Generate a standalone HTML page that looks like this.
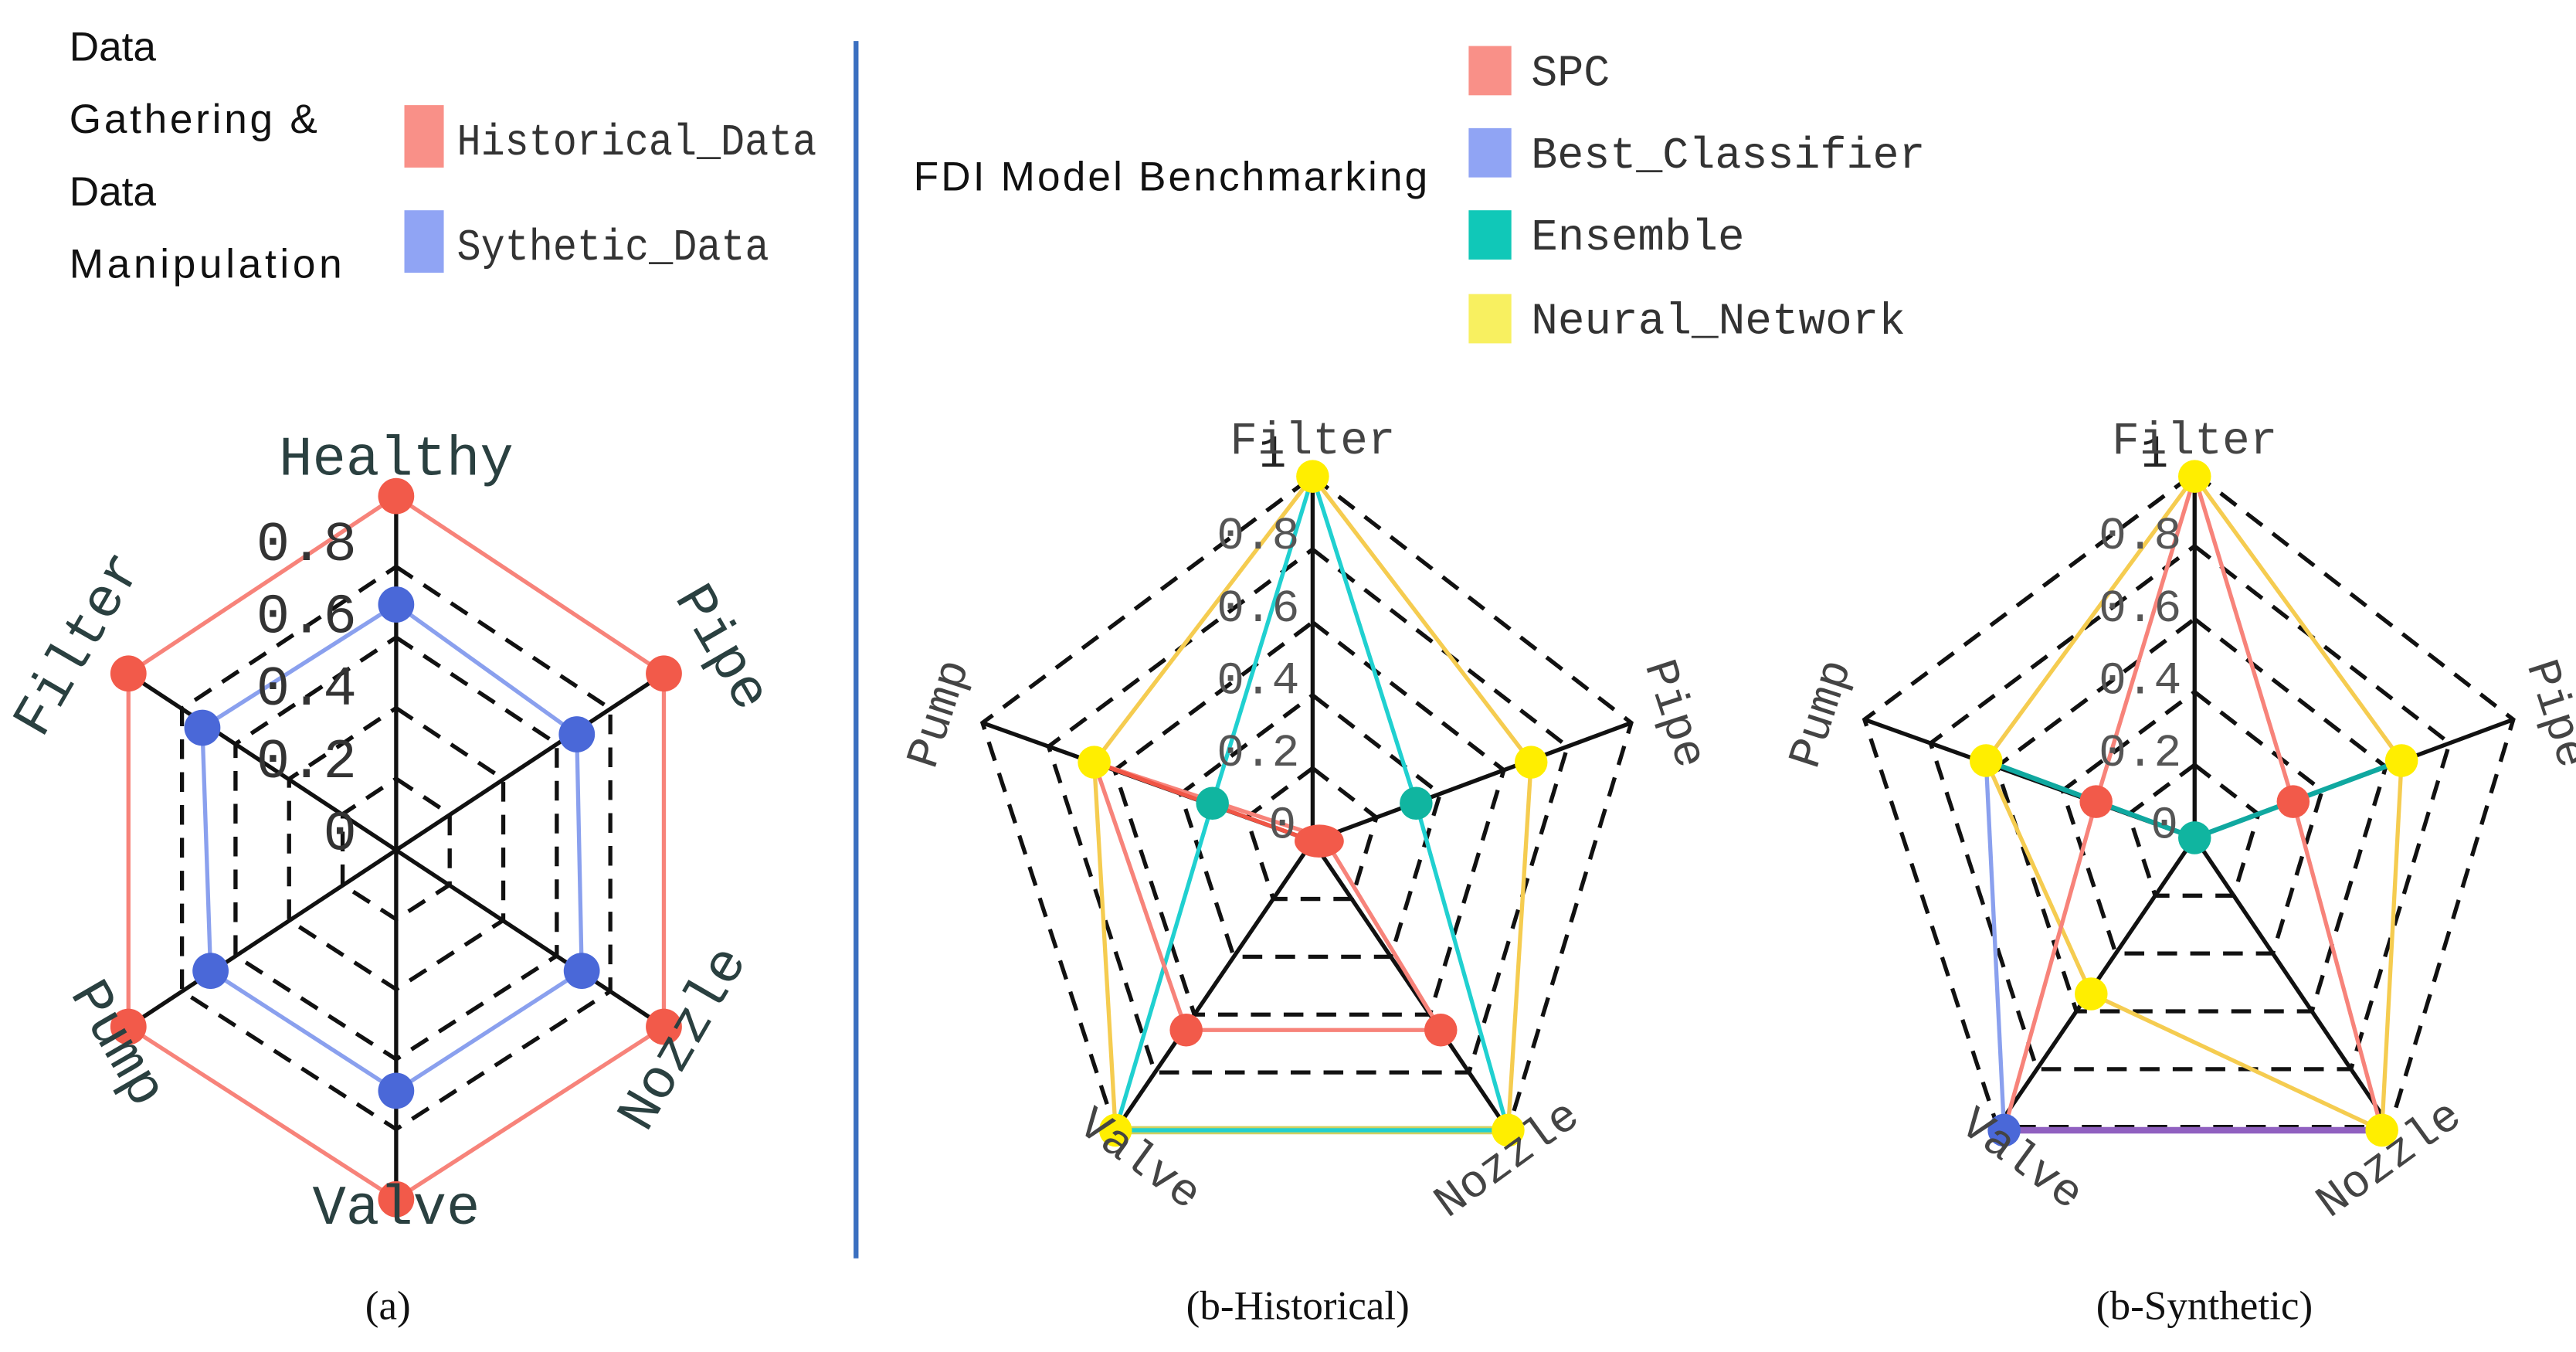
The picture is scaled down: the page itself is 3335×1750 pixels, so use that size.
<!DOCTYPE html>
<html><head><meta charset="utf-8"><style>html,body{margin:0;padding:0;background:#fff}svg{display:block}</style></head><body>
<svg width="3335" height="1750" viewBox="0 0 1568 823" xmlns="http://www.w3.org/2000/svg">
<rect width="1568" height="823" fill="#fff"/>
<g font-family="'Liberation Sans',sans-serif" font-size="25" fill="#111">
<text x="42" y="37">Data</text>
<text x="42" y="81" textLength="151">Gathering &amp;</text>
<text x="42" y="125">Data</text>
<text x="42" y="169" textLength="166">Manipulation</text>
<text x="556" y="116" textLength="313">FDI Model Benchmarking</text>
</g>
<rect x="246" y="64" width="24" height="38" fill="#f99088"/>
<rect x="246" y="128" width="24" height="38" fill="#90a4f4"/>
<rect x="894" y="28" width="26" height="30" fill="#f99088"/>
<rect x="894" y="78" width="26" height="30" fill="#90a4f4"/>
<rect x="894" y="128" width="26" height="30" fill="#10c8b8"/>
<rect x="894" y="179" width="26" height="30" fill="#f8f060"/>
<g font-family="'Liberation Mono',monospace" font-size="27" fill="#333">
<text x="278" y="94" textLength="219" lengthAdjust="spacingAndGlyphs">Historical_Data</text>
<text x="278" y="158" textLength="190" lengthAdjust="spacingAndGlyphs">Sythetic_Data</text>
<text x="932" y="52" textLength="48" lengthAdjust="spacingAndGlyphs">SPC</text>
<text x="932" y="102" textLength="240" lengthAdjust="spacingAndGlyphs">Best_Classifier</text>
<text x="932" y="152" textLength="130" lengthAdjust="spacingAndGlyphs">Ensemble</text>
<text x="932" y="203" textLength="228" lengthAdjust="spacingAndGlyphs">Neural_Network</text>
</g>
<line x1="521" y1="25" x2="521" y2="766" stroke="#3a6fc0" stroke-width="3"/>

<!-- Chart (a) -->
<g transform="translate(241,517)">
<g fill="none" stroke="#111" >
<polygon transform="scale(0.2)" stroke-width="12.5" stroke-dasharray="60 40" points="0,-215 163,-107 163,108 0,213 -163,108 -163,-107"/>
<polygon transform="scale(0.4)" stroke-width="6.25" stroke-dasharray="30 20" points="0,-215 163,-107 163,108 0,213 -163,108 -163,-107"/>
<polygon transform="scale(0.6)" stroke-width="4.17" stroke-dasharray="20 13.3" points="0,-215 163,-107 163,108 0,213 -163,108 -163,-107"/>
<polygon transform="scale(0.8)" stroke-width="3.1" stroke-dasharray="15 10" points="0,-215 163,-107 163,108 0,213 -163,108 -163,-107"/>
<line x1="0" y1="-215" x2="0" y2="213" stroke-width="2.5"/>
<line x1="-163" y1="-107" x2="163" y2="108" stroke-width="2.5"/>
<line x1="163" y1="-107" x2="-163" y2="108" stroke-width="2.5"/>
</g>
<polygon fill="none" stroke="#f7837a" stroke-width="2.5" points="0,-215 163,-107 163,108 0,213 -163,108 -163,-107"/>
<polygon fill="none" stroke="#8aa0ee" stroke-width="2.5" points="0,-149 110,-70 113,74 0,147 -113,74 -118,-74"/>
<g fill="#f25a4a"><circle cx="0" cy="-215" r="11"/><circle cx="163" cy="-107" r="11"/><circle cx="163" cy="108" r="11"/><circle cx="0" cy="213" r="11"/><circle cx="-163" cy="108" r="11"/><circle cx="-163" cy="-107" r="11"/></g>
<g fill="#4a68d8"><circle cx="0" cy="-149" r="11"/><circle cx="110" cy="-70" r="11"/><circle cx="113" cy="74" r="11"/><circle cx="0" cy="147" r="11"/><circle cx="-113" cy="74" r="11"/><circle cx="-118" cy="-74" r="11"/></g>
<g font-family="'Liberation Mono',monospace" font-size="34" fill="#333" text-anchor="end">
<text x="-24" y="-176">0.8</text><text x="-24" y="-132">0.6</text><text x="-24" y="-88">0.4</text><text x="-24" y="-44">0.2</text><text x="-24" y="0">0</text>
</g>
<g font-family="'Liberation Mono',monospace" font-size="34" fill="#2a4040" text-anchor="middle">
<text x="0" y="-228">Healthy</text>
<text x="0" y="228">Valve</text>
<text transform="translate(190,-118) rotate(60)">Pipe</text>
<text transform="translate(-185,-120) rotate(-60)">Filter</text>
<text transform="translate(-178,123) rotate(60)">Pump</text>
<text transform="translate(183,120) rotate(-60)">Nozzle</text>
</g>
</g>

<!-- Pentagon charts -->
<g transform="translate(799,512)">
<g fill="none" stroke="#111">
<polygon transform="scale(0.2)" stroke-width="12.5" stroke-dasharray="60 40" points="0,-222 194,-72 119,176 -120,176 -201,-72"/>
<polygon transform="scale(0.4)" stroke-width="6.25" stroke-dasharray="30 20" points="0,-222 194,-72 119,176 -120,176 -201,-72"/>
<polygon transform="scale(0.6)" stroke-width="4.17" stroke-dasharray="20 13.3" points="0,-222 194,-72 119,176 -120,176 -201,-72"/>
<polygon transform="scale(0.8)" stroke-width="3.1" stroke-dasharray="15 10" points="0,-222 194,-72 119,176 -120,176 -201,-72"/>
<polygon stroke-width="2.5" stroke-dasharray="12 8" points="0,-222 194,-72 119,176 -120,176 -201,-72"/>
<line x1="0" y1="0" x2="0" y2="-222" stroke-width="2.5"/>
<line x1="0" y1="0" x2="194" y2="-72" stroke-width="2.5"/>
<line x1="0" y1="0" x2="-201" y2="-72" stroke-width="2.5"/>
<line x1="0" y1="0" x2="119" y2="176" stroke-width="2.5"/>
<line x1="0" y1="0" x2="-120" y2="176" stroke-width="2.5"/>
</g>
<line x1="-120" y1="176" x2="119" y2="176" stroke="#d0d060" stroke-width="5"/>
<polygon fill="none" stroke="#f5cc50" stroke-width="2.5" points="0,-222 133,-48 119,176 -120,176 -133,-48"/>
<polygon fill="none" stroke="#20d0d0" stroke-width="2.5" points="0,-222 63,-23 119,176 -120,176 -61,-23"/>
<polygon fill="none" stroke="#f7837a" stroke-width="2.5" points="-133,-48 7,-2 78,115 -77,115"/>
<line x1="-133" y1="-48" x2="0" y2="0" stroke="#f05545" stroke-width="2.5"/>
<g fill="#10b5a0"><circle cx="63" cy="-23" r="10"/><circle cx="-61" cy="-23" r="10"/></g>
<g fill="#f25a4a"><ellipse cx="4" cy="0" rx="15" ry="10"/><circle cx="-77" cy="115" r="10"/><circle cx="78" cy="115" r="10"/></g>
<g fill="#ffee00"><circle cx="0" cy="-222" r="10"/><circle cx="133" cy="-48" r="10"/><circle cx="119" cy="176" r="10"/><circle cx="-120" cy="176" r="10"/><circle cx="-133" cy="-48" r="10"/></g>
<g font-family="'Liberation Mono',monospace" font-size="28" fill="#555" text-anchor="end">
<text x="-16" y="-228" fill="#222">1</text><text x="-8" y="-178">0.8</text><text x="-8" y="-134">0.6</text><text x="-8" y="-90">0.4</text><text x="-8" y="-46">0.2</text><text x="-10" y="-2">0</text>
</g>
<g font-family="'Liberation Mono',monospace" font-size="28" fill="#444" text-anchor="middle">
<text x="0" y="-236">Filter</text>
<text transform="translate(-220,-75) rotate(-72)">Pump</text>
<text transform="translate(213,-75) rotate(72)">Pipe</text>
<text transform="translate(-110,200) rotate(36)">Valve</text>
<text transform="translate(123,200) rotate(-36)">Nozzle</text>
</g>
</g>

<g transform="translate(1336,510)">
<g fill="none" stroke="#111">
<polygon transform="scale(0.2)" stroke-width="12.5" stroke-dasharray="60 40" points="0,-222 194,-72 119,176 -120,176 -201,-72"/>
<polygon transform="scale(0.4)" stroke-width="6.25" stroke-dasharray="30 20" points="0,-222 194,-72 119,176 -120,176 -201,-72"/>
<polygon transform="scale(0.6)" stroke-width="4.17" stroke-dasharray="20 13.3" points="0,-222 194,-72 119,176 -120,176 -201,-72"/>
<polygon transform="scale(0.8)" stroke-width="3.1" stroke-dasharray="15 10" points="0,-222 194,-72 119,176 -120,176 -201,-72"/>
<polygon stroke-width="2.5" stroke-dasharray="12 8" points="0,-222 194,-72 119,176 -120,176 -201,-72"/>
<line x1="0" y1="0" x2="0" y2="-222" stroke-width="2.5"/>
<line x1="0" y1="0" x2="194" y2="-72" stroke-width="2.5"/>
<line x1="0" y1="0" x2="-201" y2="-72" stroke-width="2.5"/>
<line x1="0" y1="0" x2="119" y2="176" stroke-width="2.5"/>
<line x1="0" y1="0" x2="-120" y2="176" stroke-width="2.5"/>
</g>
<line x1="-116" y1="178" x2="114" y2="178" stroke="#9060c0" stroke-width="4"/>
<polyline fill="none" stroke="#f5cc50" stroke-width="2.5" points="114,178 -63,95 -127,-47 0,-220 126,-47 114,178"/>
<polyline fill="none" stroke="#f7837a" stroke-width="2.5" points="-116,178 -60,-22 0,-220 60,-22 114,178"/>
<line x1="-127" y1="-47" x2="-116" y2="178" stroke="#8aa0ee" stroke-width="2.5"/>
<polyline fill="none" stroke="#10a8a0" stroke-width="3" points="-127,-47 0,0 126,-47"/>
<g fill="#f25a4a"><circle cx="-60" cy="-22" r="10"/><circle cx="60" cy="-22" r="10"/></g>
<circle cx="0" cy="0" r="10" fill="#10b5a0"/>
<circle cx="-116" cy="178" r="10" fill="#4a68d8"/>
<g fill="#ffee00"><circle cx="0" cy="-220" r="10"/><circle cx="126" cy="-47" r="10"/><circle cx="114" cy="178" r="10"/><circle cx="-63" cy="95" r="10"/><circle cx="-127" cy="-47" r="10"/></g>
<g font-family="'Liberation Mono',monospace" font-size="28" fill="#555" text-anchor="end">
<text x="-16" y="-226" fill="#222">1</text><text x="-8" y="-176">0.8</text><text x="-8" y="-132">0.6</text><text x="-8" y="-88">0.4</text><text x="-8" y="-44">0.2</text><text x="-10" y="0">0</text>
</g>
<g font-family="'Liberation Mono',monospace" font-size="28" fill="#444" text-anchor="middle">
<text x="0" y="-234">Filter</text>
<text transform="translate(-220,-73) rotate(-72)">Pump</text>
<text transform="translate(213,-73) rotate(72)">Pipe</text>
<text transform="translate(-110,202) rotate(36)">Valve</text>
<text transform="translate(123,202) rotate(-36)">Nozzle</text>
</g>
</g>

<g font-family="'Liberation Serif',serif" font-size="25" fill="#111" text-anchor="middle">
<text x="236" y="803">(a)</text>
<text x="790" y="803">(b-Historical)</text>
<text x="1342" y="803">(b-Synthetic)</text>
</g>
</svg>
</body></html>
